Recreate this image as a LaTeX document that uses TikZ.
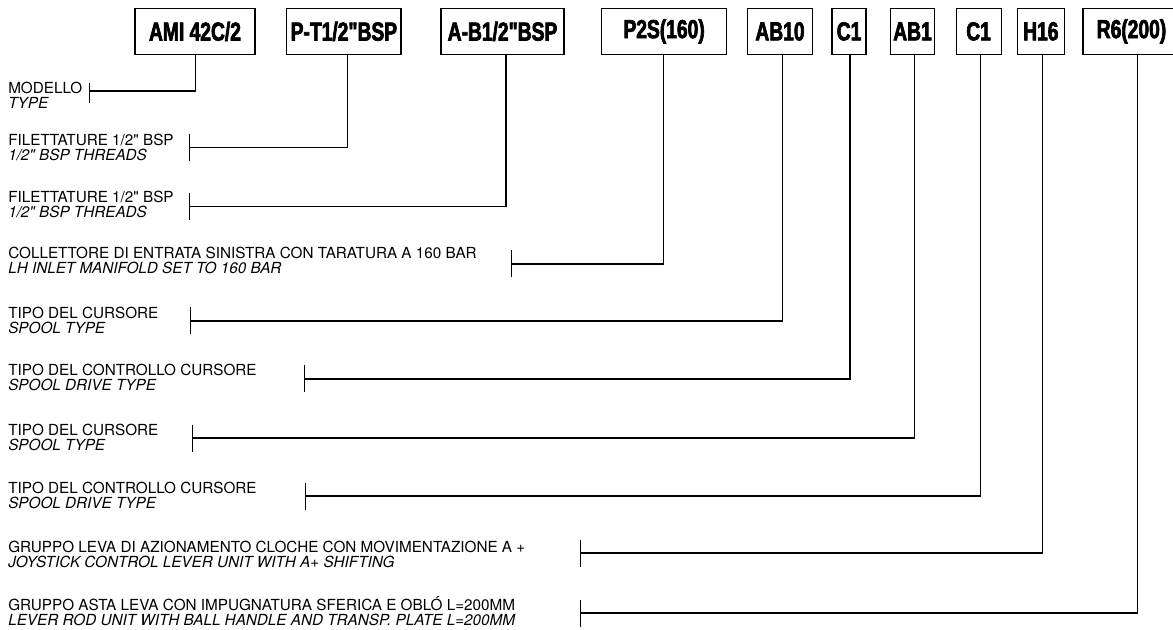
\documentclass[tikz,border=0pt]{standalone}
\usepackage{fontspec}
\setmainfont{TeX Gyre Heros}[Ligatures=TeXOff]
\newfontfamily\boxfont{Liberation Sans}[FakeStretch=0.74, FakeBold=2.5]
\usetikzlibrary{calc}
\begin{document}
\begin{tikzpicture}[x=0.75pt,y=-0.75pt,
  pbox/.style={draw, line width=0.9pt, minimum height=34.65pt, inner sep=0pt,
    font=\boxfont\bfseries\fontsize{19.5}{20}\selectfont},
  conn/.style={line width=0.9pt},
  labtxt/.style={anchor=base west, inner sep=0pt, font=\fontsize{11.45}{11.5}\selectfont},
  labit/.style={anchor=base west, inner sep=0pt, font=\fontsize{11.45}{11.5}\selectfont\itshape}]
\fill[white] (0,0) rectangle (1173,630);
\useasboundingbox (0,0) rectangle (1173,630);

% code boxes
\node[pbox, minimum width=90pt]    (b1)  at (195,31.4)    {AMI 42C/2};
\node[pbox, minimum width=85.7pt]  (b2)  at (343.9,31.4)  {P-T1/2"BSP};
\node[pbox, minimum width=92.25pt] (b3)  at (502.5,31.4)  {A-B1/2"BSP};
\node[pbox, minimum width=93.75pt] (b4)  at (664.1,31.4)  {P2S(160)};
\node[pbox, minimum width=48.3pt]  (b5)  at (780,31.4)    {AB10};
\node[pbox, minimum width=25.5pt]  (b6)  at (849,31.4)    {C1};
\node[pbox, minimum width=33.5pt]  (b7)  at (912.5,31.4)  {AB1};
\node[pbox, minimum width=33.75pt] (b8)  at (978.6,31.4)  {C1};
\node[pbox, minimum width=35.25pt] (b9)  at (1040.8,31.4) {H16};
\node[pbox, minimum width=72.75pt] (b10) at (1131.5,31.4) {R6(200)};

% tick points
\coordinate (t1)  at (89.3,91);
\coordinate (t2)  at (189.3,147.3);
\coordinate (t3)  at (189.3,206.7);
\coordinate (t4)  at (511.7,264);
\coordinate (t5)  at (190.2,321);
\coordinate (t6)  at (304.4,379);
\coordinate (t7)  at (192.5,438);
\coordinate (t8)  at (305.7,496);
\coordinate (t9)  at (580.6,553);
\coordinate (t10) at (580.6,613);

% connectors
\draw[conn] ($(b1.south)+(0.7,0)$) |- (t1);
\draw[conn] ($(b2.south)+(3.4,0)$) |- (t2);
\draw[conn] ($(b3.south)+(3.5,0)$) |- (t3);
\draw[conn] ($(b4.south)+(-0.8,0)$) |- (t4);
\draw[conn] ($(b5.south)+(2.7,0)$) |- (t5);
\draw[conn] ($(b6.south)+(1,0)$) |- (t6);
\draw[conn] ($(b7.south)+(2,0)$) |- (t7);
\draw[conn] ($(b8.south)+(1.8,0)$) |- (t8);
\draw[conn] ($(b9.south)+(1.9,0)$) |- (t9);
\draw[conn] ($(b10.south)+(6.2,0)$) |- (t10);

% end ticks
\draw[conn] ($(t1)+(0,-8)$) -- ($(t1)+(0,12)$);
\foreach \t in {t2,t3,t4,t5,t6,t7,t8,t9,t10}
  \draw[conn] ($(\t)+(0,-13.5)$) -- ($(\t)+(0,13.5)$);

% labels
\node[labtxt] (l1a)  at (8,93.3)  {MODELLO};
\node[labit]  (l1b)  at (8,108.3) {TYPE};
\node[labtxt] (l2a)  at (8,145.3) {FILETTATURE 1/2" BSP};
\node[labit]  (l2b)  at (8,160.3) {1/2" BSP THREADS};
\node[labtxt] (l3a)  at (8,202.7) {FILETTATURE 1/2" BSP};
\node[labit]  (l3b)  at (8,217.7) {1/2" BSP THREADS};
\node[labtxt] (l4a)  at (8,259)   {COLLETTORE DI ENTRATA SINISTRA CON TARATURA A 160 BAR};
\node[labit]  (l4b)  at (8,274)   {LH INLET MANIFOLD SET TO 160 BAR};
\node[labtxt] (l5a)  at (8,318.5) {TIPO DEL CURSORE};
\node[labit]  (l5b)  at (8,333.5) {SPOOL TYPE};
\node[labtxt] (l6a)  at (8,376)   {TIPO DEL CONTROLLO CURSORE};
\node[labit]  (l6b)  at (8,391)   {SPOOL DRIVE TYPE};
\node[labtxt] (l7a)  at (8,435)   {TIPO DEL CURSORE};
\node[labit]  (l7b)  at (8,450)   {SPOOL TYPE};
\node[labtxt] (l8a)  at (8,493)   {TIPO DEL CONTROLLO CURSORE};
\node[labit]  (l8b)  at (8,508)   {SPOOL DRIVE TYPE};
\node[labtxt] (l9a)  at (8,552)   {GRUPPO LEVA DI AZIONAMENTO CLOCHE CON MOVIMENTAZIONE A +};
\node[labit]  (l9b)  at (8,567)   {JOYSTICK CONTROL LEVER UNIT WITH A+ SHIFTING};
\node[labtxt] (l10a) at (8,610.5) {GRUPPO ASTA LEVA CON IMPUGNATURA SFERICA E OBLÓ L=200MM};
\node[labit]  (l10b) at (8,625.5) {LEVER ROD UNIT WITH BALL HANDLE AND TRANSP. PLATE L=200MM};
\end{tikzpicture}
\end{document}
